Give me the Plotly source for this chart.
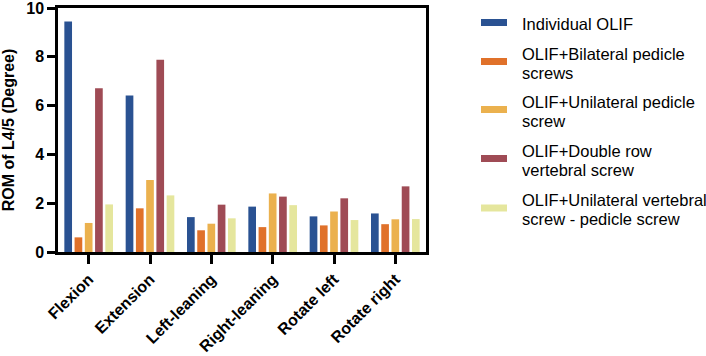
import plotly.graph_objects as go

categories = ["Flexion", "Extension", "Left-leaning", "Right-leaning", "Rotate left", "Rotate right"]
series_names = [
    "Individual OLIF",
    "OLIF+Bilateral pedicle<br>screws",
    "OLIF+Unilateral pedicle<br>screw",
    "OLIF+Double row<br>vertebral screw",
    "OLIF+Unilateral vertebral<br>screw - pedicle screw",
]
individual_olif = [9.45, 6.41, 1.43, 1.86, 1.46, 1.58]
bilateral_pedicle = [0.60, 1.79, 0.89, 1.02, 1.09, 1.14]
unilateral_pedicle = [1.19, 2.95, 1.16, 2.40, 1.66, 1.34]
double_row_vertebral = [6.71, 7.88, 1.94, 2.27, 2.20, 2.69]
unilateral_vert_pedicle = [1.95, 2.32, 1.38, 1.92, 1.31, 1.35]
series_values = [individual_olif, bilateral_pedicle, unilateral_pedicle,
                 double_row_vertebral, unilateral_vert_pedicle]
colors = ["#2a5292", "#e0712a", "#ebb14e", "#9f4b55", "#e5e69d"]
y_ticks = [0, 2, 4, 6, 8, 10]

fig = go.Figure()
for name, vals, col in zip(series_names, series_values, colors):
    fig.add_trace(go.Bar(x=categories, y=vals, name=name.replace("<br>", " "),
                         marker=dict(color=col, line=dict(width=0)), showlegend=False))

# layout geometry (pixels)
W, H = 706, 356
ml, mr, mt, mb = 58, 280, 8, 104
pw, ph = W - ml - mr, H - mt - mb

def px_x(px):
    return (px - ml) / pw

def px_y(py):
    return (H - mb - py) / ph

legend_centers = [22.5, 61.5, 109.5, 158.5, 208]
line_step = 19
shapes = []
annotations = []
for name, col, cy in zip(series_names, colors, legend_centers):
    shapes.append(dict(type="rect", xref="paper", yref="paper",
                       x0=px_x(481), x1=px_x(507), y0=px_y(cy + 3.5), y1=px_y(cy - 3.5),
                       fillcolor=col, line=dict(width=0)))
    lines = name.split("<br>")
    n = len(lines)
    for k, line in enumerate(lines):
        ly = cy + (k - (n - 1) / 2) * line_step + 1.5
        annotations.append(dict(xref="paper", yref="paper", x=px_x(520), y=px_y(ly),
                                xanchor="left", yanchor="middle", align="left",
                                text=line, showarrow=False,
                                font=dict(family="Arial, Liberation Sans", size=16.5, color="#000")))

fig.update_layout(
    width=W, height=H,
    margin=dict(l=ml, r=mr, t=mt, b=mb, autoexpand=False),
    paper_bgcolor="white", plot_bgcolor="white",
    barmode="group", bargap=0.165, bargroupgap=0.25,
    font=dict(family="Arial, Liberation Sans", color="#000"),
    shapes=shapes, annotations=annotations,
    xaxis=dict(showline=True, linecolor="#000", linewidth=2.5, mirror=True,
               ticks="outside", ticklen=9, tickwidth=2.5, tickcolor="#000",
               tickangle=-45, showgrid=False, ticklabeloverflow="allow",
               tickfont=dict(family="Arial, Liberation Sans", size=16, color="#000", weight="bold")),
    yaxis=dict(range=[0, 10], tickvals=y_ticks, showline=True, linecolor="#000", linewidth=2.5,
               mirror=True, ticks="outside", ticklen=8, tickwidth=2.5, tickcolor="#000",
               showgrid=False, zeroline=False, ticklabeloverflow="allow",
               tickfont=dict(family="Arial, Liberation Sans", size=16, color="#000", weight="bold"),
               title=dict(text="ROM of L4/5 (Degree)", standoff=10,
                          font=dict(family="Arial, Liberation Sans", size=16, color="#000", weight="bold"))),
)

fig.write_html("out.html", config={"displayModeBar": False},
               post_script="document.body.style.margin='0';document.body.style.padding='0';")
